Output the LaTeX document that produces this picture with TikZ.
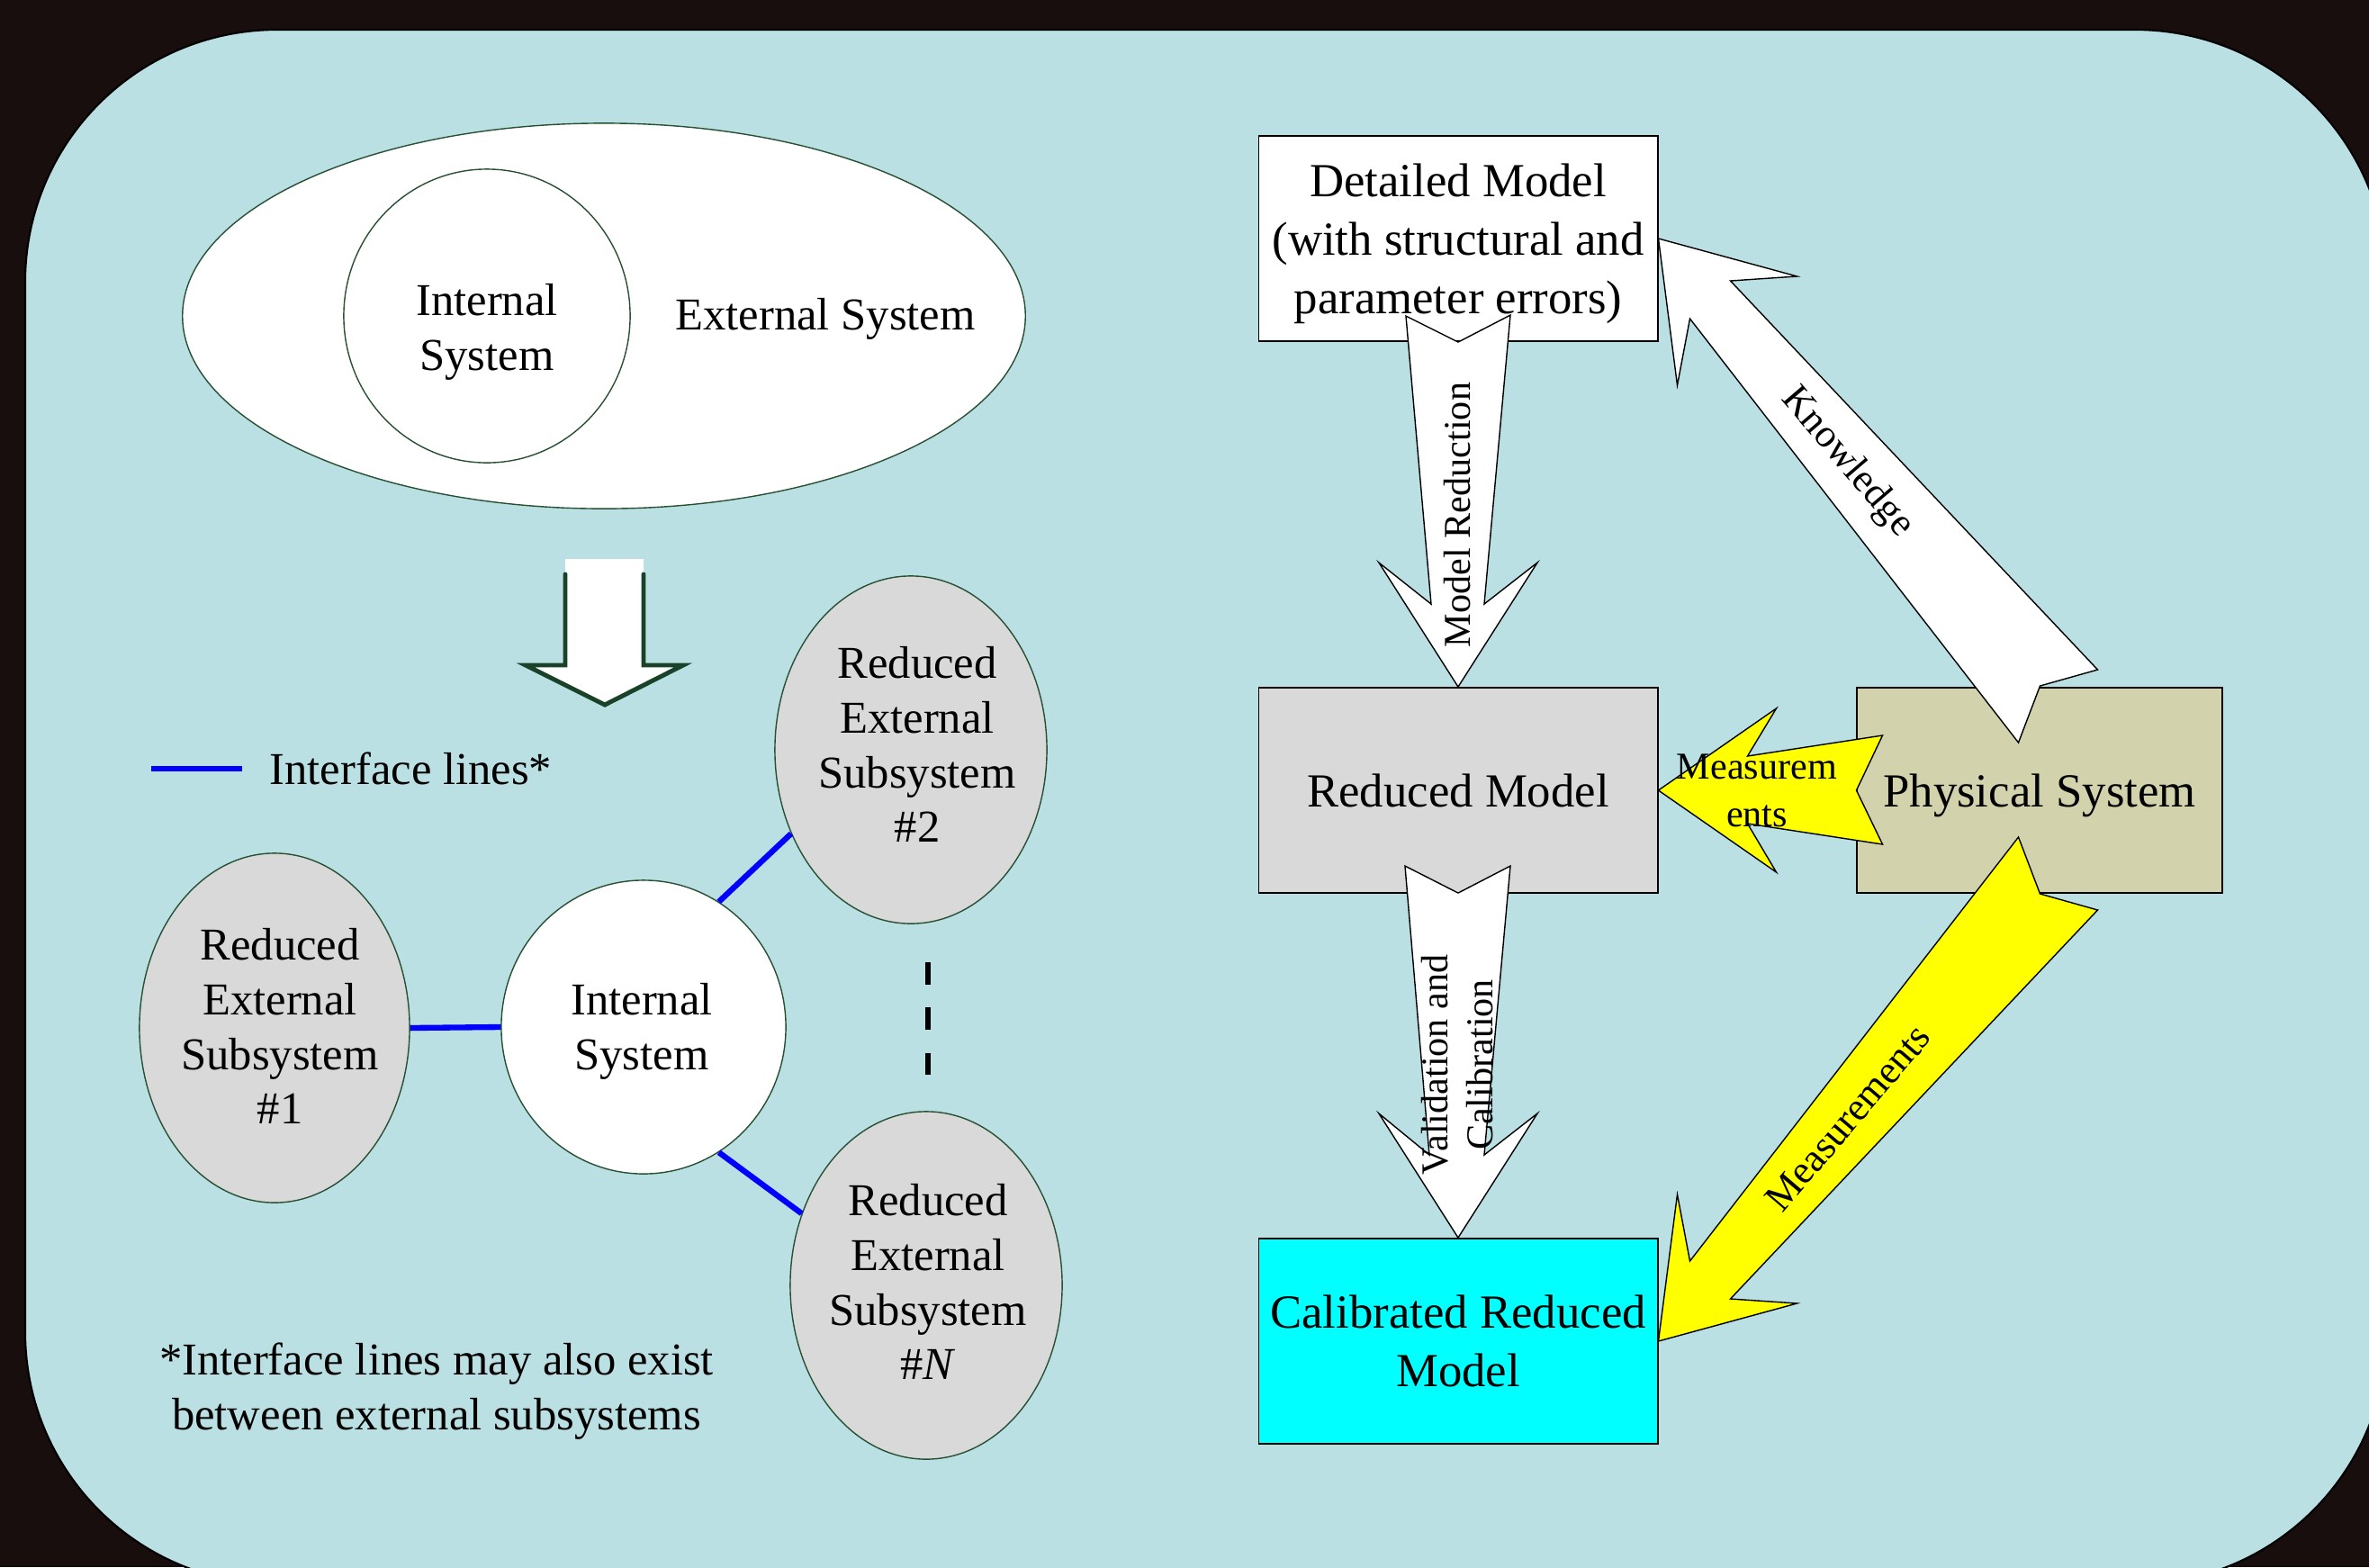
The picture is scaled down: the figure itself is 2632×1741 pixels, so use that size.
\documentclass[tikz,border=0pt]{standalone}
\usepackage{fontspec}
\setmainfont{Liberation Serif}
\usetikzlibrary{shapes.geometric}
\definecolor{darkbg}{RGB}{24,14,13}
\definecolor{slide}{RGB}{186,224,227}
\definecolor{ellgreen}{RGB}{40,80,50}
\definecolor{arrgreen}{RGB}{26,66,40}
\definecolor{physfill}{RGB}{210,210,172}
\definecolor{modgray}{RGB}{217,217,217}
\definecolor{calcyan}{RGB}{0,255,255}
\definecolor{measyellow}{RGB}{255,255,0}
\newcommand{\fsz}[2]{\fontsize{#1}{#2}\selectfont}

\begin{document}
\begin{tikzpicture}[x=0.01cm,y=-0.01cm,
  sysell/.style={ellipse,draw=ellgreen,line width=0.4pt,inner sep=0pt},
  lefttxt/.style={inner sep=0pt,align=center,font=\fsz{14.4}{17.3}},
  modelbox/.style={rectangle,draw,line width=0.5pt,inner sep=0pt,minimum height=2.28cm,text depth=0pt,align=center,font=\fsz{15}{18.4}},
  ifline/.style={blue,line width=1.8pt},
  fatarrow/.style={draw,line width=0.4pt,line join=miter,miter limit=20},
  arrlbl/.style={inner sep=0pt,align=center,font=\fsz{12}{14}}]

% slide
\clip (0,0) rectangle (2632,1741);
\fill[darkbg] (0,0) rectangle (2632,1741);
\filldraw[fill=slide,draw=black,line width=0.6pt,rounded corners=2.8cm] (28,33) rectangle (2652,1760);

% left half
\node[sysell,fill=white,minimum width=9.36cm,minimum height=4.28cm] (ext) at (671,351) {};
\node[sysell,fill=white,minimum width=3.18cm,minimum height=3.26cm] (intA) at (541,351) {};
\node[lefttxt] at (541,369) {Internal\\System};
\node[lefttxt] at (917,354) {External System};

\fill[white] (628,621) -- (715,621) -- (715,739) -- (759,739) -- (672,783) -- (584,739) -- (628,739) -- cycle;
\draw[arrgreen,line width=1.4pt,line join=miter,line cap=round] (628,638) -- (628,739) -- (584,739) -- (672,783) -- (759,739) -- (715,739) -- (715,638);

\draw[ifline] (168,854) -- (269,854);
\node[lefttxt,anchor=west] at (299,854) {Interface lines*};

\node[sysell,fill=modgray,minimum width=3.00cm,minimum height=3.88cm] (sub1) at (305,1142) {};
\node[sysell,fill=white,minimum width=3.16cm,minimum height=3.26cm] (intB) at (715,1141) {};
\node[sysell,fill=modgray,minimum width=3.02cm,minimum height=3.86cm] (sub2) at (1012,833) {};
\node[sysell,fill=modgray,minimum width=3.02cm,minimum height=3.86cm] (subN) at (1029,1428) {};
\node[lefttxt] at (311,1140) {Reduced\\External\\Subsystem\\\#1};
\node[lefttxt] at (713,1146) {Internal\\System};
\node[lefttxt] at (1019,827) {Reduced\\External\\Subsystem\\\#2};
\node[lefttxt] at (1031,1424) {Reduced\\External\\Subsystem\\\#\textit{N}};

\draw[ifline] (sub1.east) -- (intB.west);
\draw[ifline] (intB.59) -- (sub2.215);
\draw[ifline] (intB.-59) -- (subN.150);
\draw[line width=1.7pt,dash pattern=on 7pt off 7.3pt] (1031,1069) -- (1031,1195);

\node[lefttxt] at (485,1546) {*Interface lines may also exist\\between external subsystems};

% right half
\node[modelbox,fill=white,minimum width=4.43cm] (det) at (1620,265) {Detailed Model\\(with structural and\\parameter errors)};
\node[modelbox,fill=modgray,minimum width=4.43cm] (red) at (1620,878) {Reduced Model};
\node[modelbox,fill=physfill,minimum width=4.06cm] (phys) at (2266,878) {Physical System};
\node[modelbox,fill=calcyan,minimum width=4.43cm] (cal) at (1620,1490) {Calibrated Reduced\\Model};

\draw[fatarrow,fill=white] (red.north) -- ++(-88,-138) -- ++(58,46) -- ++(-28,-320) -- ++(58,29) -- ++(58,-30) -- ++(-29,321) -- ++(59,-46) -- cycle;
\draw[fatarrow,fill=white] (cal.north) -- ++(-88,-138) -- ++(56,46) -- ++(-27,-321) -- ++(59,30) -- ++(58,-30) -- ++(-29,321) -- ++(59,-46) -- cycle;
\draw[fatarrow,fill=white] (det.east) -- ++(154,42) -- ++(-74,5) -- ++(408,432) -- ++(-64,18) -- ++(-24,63) -- ++(-365,-471) -- ++(-14,74) -- cycle;
\draw[fatarrow,fill=measyellow] (cal.east) -- ++(154,-42) -- ++(-74,-5) -- ++(408,-432) -- ++(-64,-18) -- ++(-24,-63) -- ++(-365,471) -- ++(-14,-74) -- cycle;
\draw[fatarrow,fill=measyellow] (red.east) -- ++(131,-91) -- ++(-32,53) -- ++(150,-23) -- ++(-29,61) -- ++(29,60) -- ++(-150,-23) -- ++(32,54) -- cycle;

\node[arrlbl,rotate=90] at (1619,572) {Model Reduction};
\node[arrlbl,rotate=-49.5,font=\fsz{12.5}{15}] at (2052,514) {Knowledge};
\node[arrlbl,font=\fsz{12}{15}] at (1952,878) {Measurem\\ents};
\node[arrlbl,rotate=49.5,font=\fsz{12.5}{15}] at (2053,1242) {Measurements};
\node[arrlbl,rotate=90] at (1619,1183) {Validation and\\Calibration};
\end{tikzpicture}
\end{document}
